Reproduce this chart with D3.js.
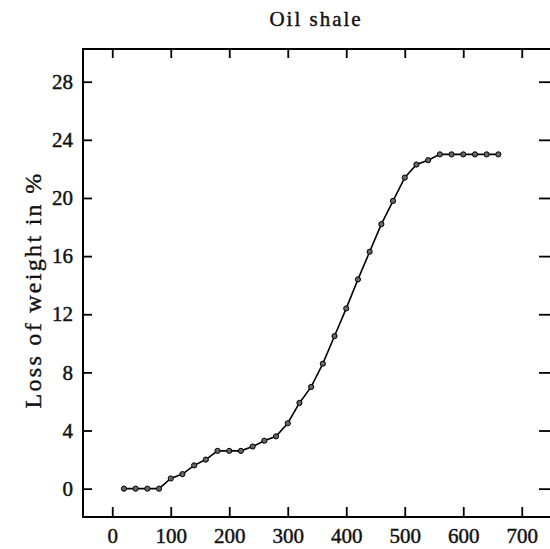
<!DOCTYPE html>
<html>
<head>
<meta charset="utf-8">
<script src="https://cdn.jsdelivr.net/npm/d3@7"></script>
<style>
  html, body { margin: 0; padding: 0; background: #fff; }
  svg { display: block; }
</style>
</head>
<body>
<svg id="chart" width="550" height="549"></svg>
<script>
// ---- data ----
const title = "Oil shale";
const yLabel = "Loss of weight in %";
const temperature = [20, 40, 60, 80, 100, 120, 140, 160, 180, 200, 220, 240, 260, 280, 300,
  320, 340, 360, 380, 400, 420, 440, 460, 480, 500, 520, 540, 560, 580, 600, 620, 640, 660];
const weightLoss = [0, 0, 0, 0, 0.7, 1.0, 1.6, 2.0, 2.6, 2.6, 2.6, 2.9, 3.3, 3.6, 4.5,
  5.9, 7.0, 8.6, 10.5, 12.4, 14.4, 16.3, 18.2, 19.8, 21.4, 22.3, 22.6, 23.0, 23.0, 23.0, 23.0, 23.0, 23.0];
const xTicks = [0, 100, 200, 300, 400, 500, 600, 700];
const yTicks = [0, 4, 8, 12, 16, 20, 24, 28];

(function () {
// ---- layout ----
const svg = d3.select("#chart");
const mLeft = 83, mRight = 551, mTop = 49, mBottom = 517;
const x = d3.scaleLinear().domain([-50, 750]).range([mLeft, mRight]);
const y = d3.scaleLinear().domain([-1.95, 30.25]).range([mBottom, mTop]);
const serif = "'Liberation Serif', 'Times New Roman', serif";

// frame
svg.append("rect")
  .attr("x", mLeft).attr("y", mTop)
  .attr("width", mRight - mLeft).attr("height", mBottom - mTop)
  .attr("fill", "none").attr("stroke", "#000").attr("stroke-width", 2);

// axes with inward ticks
const bottomAxis = d3.axisBottom(x).tickValues(xTicks).tickSizeInner(-10).tickSizeOuter(0).tickPadding(20);
const topAxis = d3.axisTop(x).tickValues(xTicks).tickSizeInner(-9).tickSizeOuter(0).tickFormat("");
const leftAxis = d3.axisLeft(y).tickValues(yTicks).tickSizeInner(-9).tickSizeOuter(0).tickPadding(20);
const rightAxis = d3.axisRight(y).tickValues(yTicks).tickSizeInner(-12).tickSizeOuter(0).tickFormat("");

function styleAxis(g) {
  g.select(".domain").remove();
  g.selectAll(".tick line").attr("stroke", "#000").attr("stroke-width", 1.8);
  g.selectAll(".tick text").attr("fill", "#111")
    .attr("stroke", "#111").attr("stroke-width", 0.45)
    .style("font-family", serif).style("font-size", "21px");
}

svg.append("g").attr("transform", `translate(0,${mBottom})`).call(bottomAxis).call(styleAxis)
  .selectAll(".tick text").attr("dy", null).attr("y", 26);
svg.append("g").attr("transform", `translate(0,${mTop})`).call(topAxis).call(styleAxis);
svg.append("g").attr("transform", `translate(${mLeft},0)`).call(leftAxis).call(styleAxis)
  .selectAll(".tick text").attr("x", -10);
svg.append("g").attr("transform", `translate(${mRight},0)`).call(rightAxis).call(styleAxis);

// title
svg.append("text")
  .attr("x", 316).attr("y", 26)
  .attr("text-anchor", "middle")
  .style("font-family", serif).style("font-size", "21px").style("letter-spacing", "2px")
  .attr("fill", "#111").attr("stroke", "#111").attr("stroke-width", 0.4)
  .text(title);

// y label
svg.append("text")
  .attr("transform", "translate(41,290) rotate(-90)")
  .attr("text-anchor", "middle")
  .style("font-family", serif).style("font-size", "24px").style("letter-spacing", "2.3px")
  .attr("fill", "#111").attr("stroke", "#111").attr("stroke-width", 0.4)
  .text(yLabel);

// data
const pts = temperature.map((t, i) => [t, weightLoss[i]]);
const line = d3.line().x(d => x(d[0])).y(d => y(d[1]));
svg.append("path").datum(pts)
  .attr("d", line).attr("fill", "none")
  .attr("stroke", "#000").attr("stroke-width", 1.6);

svg.append("g").selectAll("circle").data(pts).join("circle")
  .attr("cx", d => x(d[0])).attr("cy", d => y(d[1]))
  .attr("r", 2.6)
  .attr("fill", "#666").attr("stroke", "#000").attr("stroke-width", 1);
})();
</script>
</body>
</html>
